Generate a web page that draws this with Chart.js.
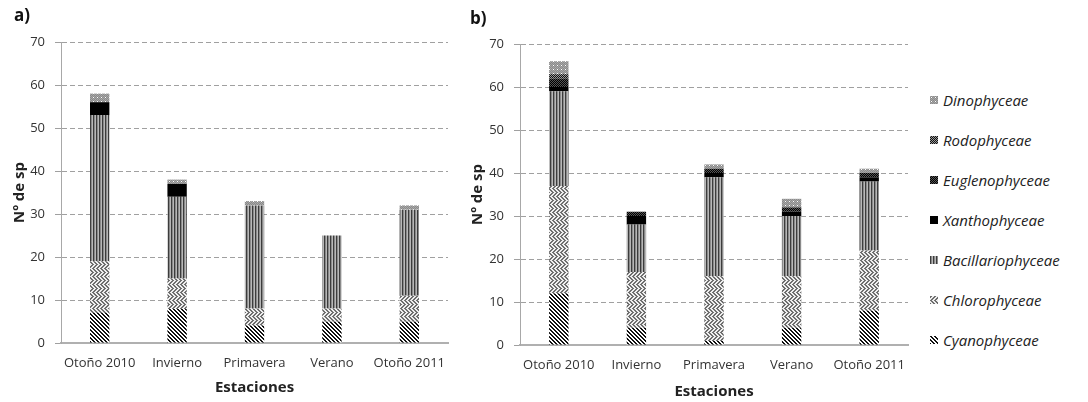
<!DOCTYPE html>
<html>
<head>
<meta charset="utf-8">
<script src="https://cdn.jsdelivr.net/npm/chart.js@4"></script>
<style>
  body { margin: 0; background: #fff; width: 1088px; height: 402px; overflow: hidden; position: relative; font-family: 'Open Sans', sans-serif; }
  canvas.chart { position: absolute; top: 0; }
  .tag { position: absolute; font-weight: bold; font-size: 17px; color: #111; }
  #legend { position: absolute; left: 930px; top: 0; }
  .item { position: absolute; left: 0; white-space: nowrap; font-style: italic; font-size: 15px; color: #222; line-height: 20px; }
  .item canvas { position: absolute; left: 0; top: 6px; }
  .item span { position: absolute; left: 13px; top: 0; }
</style>
</head>
<body>
<canvas id="chart-a" class="chart" width="460" height="402" style="left:0px"></canvas>
<canvas id="chart-b" class="chart" width="460" height="402" style="left:460px"></canvas>
<div class="tag" style="left:14px; top:3px">a)</div>
<div class="tag" style="left:470px; top:6px">b)</div>
<div id="legend"></div>

<script>
// Seasons sampled
const seasons = ['Otoño 2010', 'Invierno', 'Primavera', 'Verano', 'Otoño 2011'];

// Species count per class, panel a)
const cyanoA   = [7, 8, 4, 5, 5];
const chloroA  = [12, 7, 4, 3, 6];
const bacilA   = [34, 19, 24, 17, 20];
const xanthoA  = [3, 3, 0, 0, 0];
const euglenoA = [0, 0, 0, 0, 0];
const rodoA    = [0, 0, 0, 0, 0];
const dinoA    = [2, 1, 1, 0, 1];

// Species count per class, panel b)
const cyanoB   = [12, 4, 1, 4, 8];
const chloroB  = [25, 13, 15, 12, 14];
const bacilB   = [22, 11, 23, 14, 16];
const xanthoB  = [1, 2, 1, 1, 1];
const euglenoB = [2, 1, 1, 1, 1];
const rodoB    = [1, 0, 0, 0, 0];
const dinoB    = [3, 0, 1, 2, 1];

const yTicks = [0, 10, 20, 30, 40, 50, 60, 70];

// Legend order, top to bottom
const legendNames = ['Dinophyceae', 'Rodophyceae', ' Euglenophyceae', 'Xanthophyceae',
                     'Bacillariophyceae', 'Chlorophyceae', 'Cyanophyceae'];

// Build a small repeating fill from a per-pixel function
function makePattern(w, h, pixel) {
    const c = document.createElement('canvas');
    c.width = w; c.height = h;
    const g = c.getContext('2d');
    for (let y = 0; y < h; y++) {
        for (let x = 0; x < w; x++) {
            g.fillStyle = pixel(x, y);
            g.fillRect(x, y, 1, 1);
        }
    }
    return g.createPattern(c, 'repeat');
}

const FILLS = {
    cyano: makePattern(4, 4, (x, y) => ((x - y + 8) % 4 < 2 ? '#111' : '#fff')),
    chloro: makePattern(8, 8, (x, y) => {
        const up = y < 4 ? (x + y) % 4 : (x - y + 8) % 4;
        return up < 2 ? '#6e6e6e' : '#eeeeee';
    }),
    bacil: makePattern(3, 3, x => (x === 0 ? '#3c3c3c' : x === 1 ? '#8a8a8a' : '#b8b8b8')),
    xantho: '#000000',
    eugleno: makePattern(2, 2, (x, y) => ((x + y) % 2 ? '#000' : '#555')),
    rodo: makePattern(2, 2, (x, y) => ((x + y) % 2 ? '#111' : '#999')),
    dino: makePattern(4, 4, (x, y) => (x % 4 === 1 && y % 4 === 1 ? '#fff' : (x + y) % 2 ? '#8a8a8a' : '#a8a8a8'))
};

function buildDatasets(cyano, chloro, bacil, xantho, eugleno, rodo, dino) {
    const rows = [
        ['Cyanophyceae', cyano, FILLS.cyano],
        ['Chlorophyceae', chloro, FILLS.chloro],
        ['Bacillariophyceae', bacil, FILLS.bacil],
        ['Xanthophyceae', xantho, FILLS.xantho],
        ['Euglenophyceae', eugleno, FILLS.eugleno],
        ['Rodophyceae', rodo, FILLS.rodo],
        ['Dinophyceae', dino, FILLS.dino]
    ];
    return rows.map(([label, data, fill]) => ({
        label: label,
        data: data,
        backgroundColor: fill,
        borderWidth: 0,
        barPercentage: 0.25,
        categoryPercentage: 1.0
    }));
}

function makeChart(id, datasets, yWidth, topPad, yTitlePad, xTitlePad) {
    const ctx = document.getElementById(id).getContext('2d');
    return new Chart(ctx, {
        type: 'bar',
        data: { labels: seasons, datasets: datasets },
        options: {
            responsive: false,
            animation: false,
            devicePixelRatio: 1,
            layout: { padding: { top: topPad, right: 12, bottom: 0, left: 0 } },
            plugins: {
                legend: { display: false },
                tooltip: { enabled: false }
            },
            scales: {
                x: {
                    stacked: true,
                    grid: { display: false, drawTicks: false },
                    border: { display: true, color: '#b0b0b0', width: 2 },
                    ticks: { color: '#333', font: { family: 'Open Sans', size: 13 }, padding: 12, maxRotation: 0 },
                    title: {
                        display: true, text: 'Estaciones', color: '#222',
                        font: { family: 'Open Sans', size: 15, weight: 'bold' },
                        padding: { top: 0, bottom: xTitlePad }
                    },
                    afterFit: s => { s.height = 402 - (topPad + 301); }
                },
                y: {
                    stacked: true,
                    min: 0, max: 70,
                    afterBuildTicks: s => { s.ticks = yTicks.map(v => ({ value: v })); },
                    grid: {
                        color: '#a0a0a0', lineWidth: 1,
                        tickLength: 6, tickColor: '#a0a0a0', tickBorderDash: []
                    },
                    // in v4 the dash of the grid lines sits under border
                    border: { display: true, color: '#a8a8a8', width: 1, dash: [5, 3] },
                    ticks: { color: '#333', font: { family: 'Open Sans', size: 13 }, padding: 10 },
                    title: {
                        display: true, text: 'Nº de sp', color: '#222',
                        font: { family: 'Open Sans', size: 15, weight: 'bold' },
                        padding: { top: yTitlePad, bottom: 0 }
                    },
                    afterFit: s => { s.width = yWidth; }
                }
            }
        }
    });
}

makeChart('chart-a', buildDatasets(cyanoA, chloroA, bacilA, xanthoA, euglenoA, rodoA, dinoA), 61, 42, 11, 5);
makeChart('chart-b', buildDatasets(cyanoB, chloroB, bacilB, xanthoB, euglenoB, rodoB, dinoB), 60, 44, 9, 1);

// Legend with the same fills as the bars
const legendFills = [FILLS.dino, FILLS.rodo, FILLS.eugleno, FILLS.xantho, FILLS.bacil, FILLS.chloro, FILLS.cyano];
const legend = document.getElementById('legend');
legendNames.forEach((name, i) => {
    const item = document.createElement('div');
    item.className = 'item';
    item.style.top = (90 + i * 40) + 'px';
    const sw = document.createElement('canvas');
    sw.width = 8; sw.height = 8;
    const g = sw.getContext('2d');
    g.fillStyle = legendFills[i];
    g.fillRect(0, 0, 8, 8);
    const txt = document.createElement('span');
    txt.textContent = name;
    item.appendChild(sw);
    item.appendChild(txt);
    legend.appendChild(item);
});
</script>
</body>
</html>
